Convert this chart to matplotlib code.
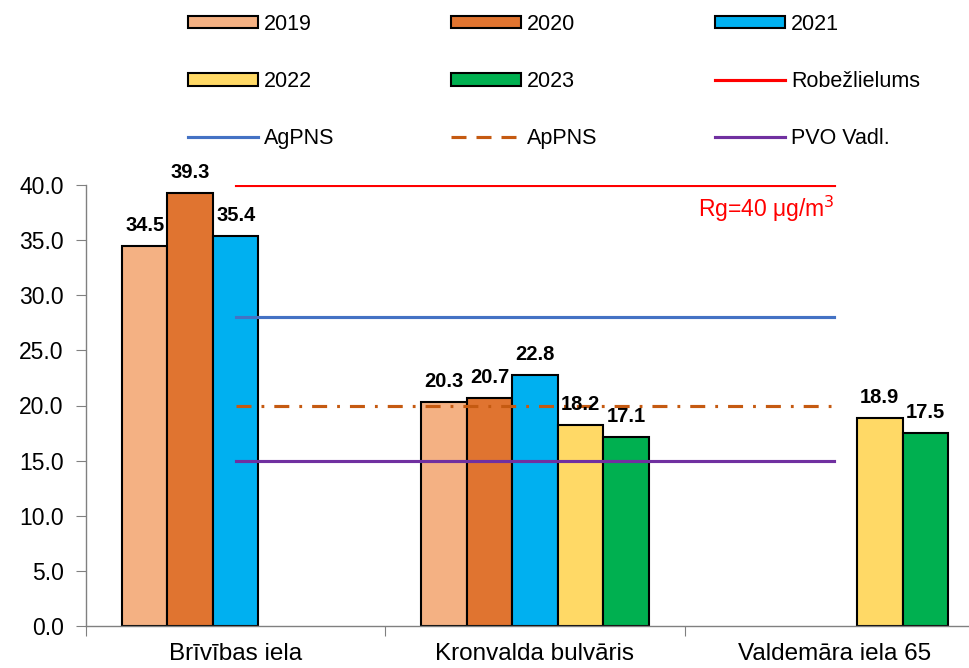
import numpy as np
import matplotlib
matplotlib.use("Agg")
import matplotlib.pyplot as plt
from matplotlib.patches import Patch
from matplotlib.lines import Line2D

plt.rcParams['font.family'] = ['Liberation Sans', 'DejaVu Sans']

categories = ["Brīvības iela", "Kronvalda bulvāris", "Valdemāra iela 65"]
years = ["2019", "2020", "2021", "2022", "2023"]
values = {
    "2019": [34.5, 20.3, np.nan],
    "2020": [39.3, 20.7, np.nan],
    "2021": [35.4, 22.8, np.nan],
    "2022": [np.nan, 18.2, 18.9],
    "2023": [np.nan, 17.1, 17.5],
}
colors = {"2019": "#F4B183", "2020": "#E07430", "2021": "#00B0F0",
          "2022": "#FFD966", "2023": "#00B050"}

robez = [40, 40, 40]
agpns = [28, 28, 28]
appns = [20, 20, 20]
pvo = [15, 15, 15]
yticks = [0, 5, 10, 15, 20, 25, 30, 35, 40]

fig = plt.figure(figsize=(9.7, 6.68), dpi=100)
ax = fig.add_axes([86/970, 42/668, 898/970, 441/668])

x = np.arange(len(categories))
bw = 0.152
for i, y in enumerate(years):
    pos = x + (i - 2) * bw
    vals = np.array(values[y], dtype=float)
    ax.bar(pos, vals, bw, color=colors[y], edgecolor='black', linewidth=1.5, zorder=2)
    for p, v in zip(pos, vals):
        if not np.isnan(v):
            ax.text(p, v + 1.0, f"{v:.1f}", ha='center', va='bottom',
                    fontsize=14.5, fontweight='bold', zorder=5)

ax.plot(x, robez, color='#FF0000', lw=2.25, zorder=3)
ax.plot(x, agpns, color='#4472C4', lw=2.25, zorder=3)
ax.plot(x, appns, color='#C55A11', lw=2.25, zorder=3, dashes=(4.8, 3.2, 0.9, 3.2))
ax.plot(x, pvo, color='#7030A0', lw=2.25, zorder=3)

ax.text(2, 37.08, "Rg=40 μg/m$^3$", color='#FF0000', fontsize=16.5, ha='right', va='baseline')

ax.set_xlim(-0.5, 2.5)
ax.set_ylim(0, 40)
ax.set_yticks(yticks)
ax.set_yticklabels([f"{t:.1f}" for t in yticks], fontsize=16.5)
ax.set_xticks([-0.5, 0.5, 1.5])
ax.set_xticklabels([])
ax.set_xticks(x, minor=True)
ax.set_xticklabels(categories, minor=True, fontsize=17.5)
ax.tick_params(axis='x', which='major', direction='out', length=7, color='#808080')
ax.tick_params(axis='x', which='minor', length=0, pad=12)
ax.tick_params(axis='y', direction='out', length=7, color='#808080', pad=9)
for s in ['top', 'right']:
    ax.spines[s].set_visible(False)
for s in ['left', 'bottom']:
    ax.spines[s].set_color('#808080')
    ax.spines[s].set_linewidth(1)

def patch(c):
    return Patch(facecolor=c, edgecolor='black', linewidth=1.5)

cols = [
    ([patch(colors["2019"]), patch(colors["2022"]), Line2D([], [], color='#4472C4', lw=2.25)],
     ["2019", "2022", "AgPNS"], 188),
    ([patch(colors["2020"]), patch(colors["2023"]), Line2D([], [], color='#C55A11', lw=2.25, dashes=(4.8, 3.2))],
     ["2020", "2023", "ApPNS"], 451),
    ([patch(colors["2021"]), Line2D([], [], color='#FF0000', lw=2.25), Line2D([], [], color='#7030A0', lw=2.25)],
     ["2021", "Robežlielums", "PVO Vadl."], 715),
]
for h, l, xp in cols:
    fig.legend(h, l, loc='upper left', bbox_to_anchor=(xp/970, 1 - 14/668),
               frameon=False, fontsize=15.5, handlelength=3.25, handleheight=0.5,
               handletextpad=0.28, labelspacing=1.68, borderpad=0, borderaxespad=0)

fig.savefig("out.png", dpi=100)
